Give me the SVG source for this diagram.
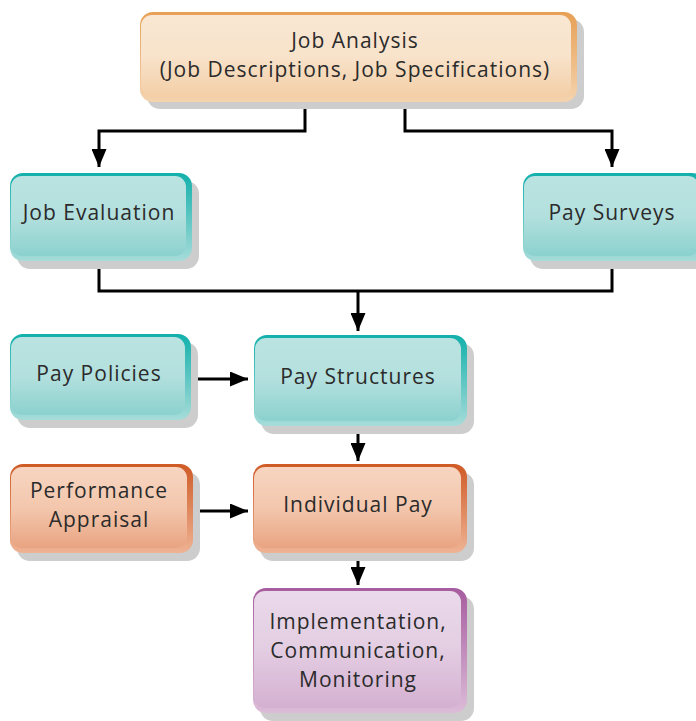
<svg xmlns="http://www.w3.org/2000/svg" width="696" height="721" viewBox="0 0 696 721">
<defs>
<linearGradient id="oO" x1="0" y1="0" x2="0" y2="1"><stop offset="0" stop-color="#e6a055"/><stop offset="1" stop-color="#f4d3ae"/></linearGradient>
<linearGradient id="oI" x1="0" y1="0" x2="0" y2="1"><stop offset="0" stop-color="#f9e7d3"/><stop offset="0.5" stop-color="#f8e3cb"/><stop offset="1" stop-color="#f3cea6"/></linearGradient>
<linearGradient id="tO" x1="0" y1="0" x2="0" y2="1"><stop offset="0" stop-color="#12b0ab"/><stop offset="1" stop-color="#a6dcd9"/></linearGradient>
<linearGradient id="tI" x1="0" y1="0" x2="0" y2="1"><stop offset="0" stop-color="#bae3e1"/><stop offset="0.5" stop-color="#b3e0de"/><stop offset="1" stop-color="#8bd1ce"/></linearGradient>
<linearGradient id="rO" x1="0" y1="0" x2="0" y2="1"><stop offset="0" stop-color="#cf5a25"/><stop offset="1" stop-color="#eeb394"/></linearGradient>
<linearGradient id="rI" x1="0" y1="0" x2="0" y2="1"><stop offset="0" stop-color="#f7d5c1"/><stop offset="0.5" stop-color="#f3c7ad"/><stop offset="1" stop-color="#e9a482"/></linearGradient>
<linearGradient id="pO" x1="0" y1="0" x2="0" y2="1"><stop offset="0" stop-color="#a65c9e"/><stop offset="1" stop-color="#dcbcd8"/></linearGradient>
<linearGradient id="pI" x1="0" y1="0" x2="0" y2="1"><stop offset="0" stop-color="#eadaea"/><stop offset="0.5" stop-color="#e3cde2"/><stop offset="1" stop-color="#d4b0d1"/></linearGradient>
<marker id="ah" viewBox="0 0 18 15" refX="18" refY="7.5" markerWidth="18" markerHeight="15" markerUnits="userSpaceOnUse" orient="auto"><path d="M0,0 L18,7.5 L0,15 Z" fill="#000"/></marker>
</defs>
<style>
.sh{fill:#cdcdcd}
.t{font-family:"Open Sans","Liberation Sans",Arial,sans-serif;font-size:21px;letter-spacing:1px;fill:#2b2b2b;text-anchor:middle}
.c{fill:none;stroke:#000;stroke-width:3}
</style>
<g id="connectors">
<path class="c" d="M305,101 V131 H99 V167" marker-end="url(#ah)"/>
<path class="c" d="M405,101 V131 H612 V167" marker-end="url(#ah)"/>
<path class="c" d="M99,260 V291 H612 V260"/>
<path class="c" d="M358,291 V331" marker-end="url(#ah)"/>
<path class="c" d="M190,379 H248" marker-end="url(#ah)"/>
<path class="c" d="M358,426 V461" marker-end="url(#ah)"/>
<path class="c" d="M193,511 H248" marker-end="url(#ah)"/>
<path class="c" d="M358,553 V585" marker-end="url(#ah)"/>
</g>
<g id="job-analysis">
<rect class="sh" x="147" y="19" width="437" height="90" rx="13"/>
<rect x="140" y="12" width="437" height="90" rx="13" fill="url(#oO)"/>
<rect x="141" y="15" width="430" height="82" rx="11" fill="url(#oI)"/>
<text class="t" x="355" y="48">Job Analysis</text>
<text class="t" x="355" y="77">(Job Descriptions, Job Specifications)</text>
</g>
<g id="job-evaluation">
<rect class="sh" x="17" y="181" width="182" height="88" rx="13"/>
<rect x="10" y="173" width="182" height="88" rx="13" fill="url(#tO)"/>
<rect x="11" y="176" width="175" height="80" rx="11" fill="url(#tI)"/>
<text class="t" x="99" y="220">Job Evaluation</text>
</g>
<g id="pay-surveys">
<rect class="sh" x="530" y="181" width="182" height="88" rx="13"/>
<rect x="523" y="173" width="182" height="88" rx="13" fill="url(#tO)"/>
<rect x="524" y="176" width="175" height="80" rx="11" fill="url(#tI)"/>
<text class="t" x="612" y="220">Pay Surveys</text>
</g>
<g id="pay-policies">
<rect class="sh" x="17" y="342" width="181" height="86" rx="13"/>
<rect x="10" y="334" width="181" height="86" rx="13" fill="url(#tO)"/>
<rect x="11" y="337" width="174" height="78" rx="11" fill="url(#tI)"/>
<text class="t" x="99" y="381">Pay Policies</text>
</g>
<g id="pay-structures">
<rect class="sh" x="261" y="343" width="213" height="91" rx="13"/>
<rect x="254" y="335" width="213" height="91" rx="13" fill="url(#tO)"/>
<rect x="255" y="338" width="206" height="83" rx="11" fill="url(#tI)"/>
<text class="t" x="358" y="384">Pay Structures</text>
</g>
<g id="performance-appraisal">
<rect class="sh" x="17" y="472" width="183" height="89" rx="13"/>
<rect x="10" y="464" width="183" height="89" rx="13" fill="url(#rO)"/>
<rect x="11" y="467" width="176" height="81" rx="11" fill="url(#rI)"/>
<text class="t" x="99" y="498">Performance</text>
<text class="t" x="99" y="527">Appraisal</text>
</g>
<g id="individual-pay">
<rect class="sh" x="260" y="472" width="214" height="89" rx="13"/>
<rect x="253" y="464" width="214" height="89" rx="13" fill="url(#rO)"/>
<rect x="254" y="467" width="207" height="81" rx="11" fill="url(#rI)"/>
<text class="t" x="358" y="512">Individual Pay</text>
</g>
<g id="implementation">
<rect class="sh" x="260" y="596" width="214" height="125" rx="13"/>
<rect x="253" y="588" width="214" height="125" rx="13" fill="url(#pO)"/>
<rect x="254" y="591" width="207" height="117" rx="11" fill="url(#pI)"/>
<text class="t" x="358" y="629">Implementation,</text>
<text class="t" x="358" y="658">Communication,</text>
<text class="t" x="358" y="687">Monitoring</text>
</g>
</svg>
